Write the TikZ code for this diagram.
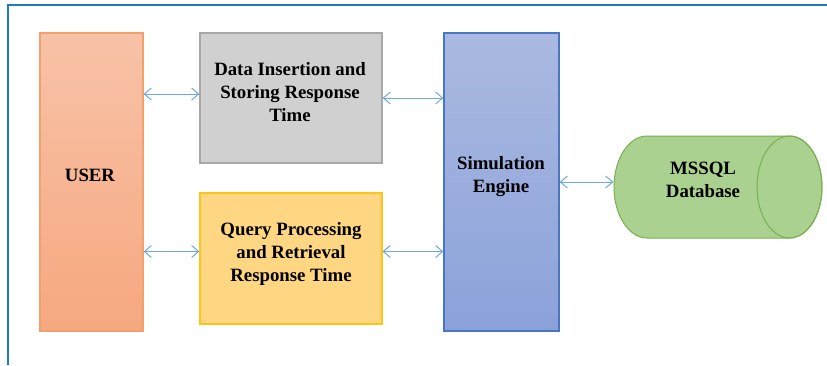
\documentclass[tikz,border=0pt]{standalone}
\usepackage{fontspec}
\setmainfont{Liberation Serif}
\usetikzlibrary{arrows.meta}

\definecolor{frameblue}{HTML}{1F7BC6}
\definecolor{linkblue}{HTML}{6FA8DC}
\definecolor{userline}{HTML}{F4A06A}
\definecolor{usertop}{HTML}{F8C2A7}
\definecolor{userbot}{HTML}{F6A880}
\definecolor{grayfill}{HTML}{D0D0D0}
\definecolor{grayline}{HTML}{A8A8A8}
\definecolor{yellowfill}{HTML}{FFD681}
\definecolor{yellowline}{HTML}{FFC514}
\definecolor{simtop}{HTML}{AAB9E1}
\definecolor{simbot}{HTML}{8BA2D9}
\definecolor{simline}{HTML}{4A75C5}
\definecolor{dbfill}{HTML}{AAD18F}
\definecolor{dbline}{HTML}{78B04F}

\begin{document}
\begin{tikzpicture}[x=1pt, y=-1pt,
    box/.style={rectangle, line width=1.2pt, inner sep=0pt},
    label/.style={align=center, font=\fontsize{18.8}{23}\selectfont\bfseries},
    link/.style={{Straight Barb[length=7pt,width=12pt]}-{Straight Barb[length=7pt,width=12pt]},
        draw=linkblue, line width=1pt}]

    \useasboundingbox (0,0) rectangle (827,365);

    % Frame
    \draw[frameblue, line width=2pt] (8,365) -- (8,5) -- (827,5);

    % Column 1 (user)
    \node[box, draw=userline, top color=usertop, bottom color=userbot,
        minimum width=103pt, minimum height=298pt] (user) at (91.5,182) {};
    \node[label] (usertxt) at (90,175) {USER};

    % Column 2 (response times)
    \node[box, draw=grayline, fill=grayfill,
        minimum width=182pt, minimum height=130pt] (data) at (291,98) {};
    \node[label] (datatxt) at (290,92) {Data Insertion and\\Storing Response\\Time};
    \node[box, draw=yellowline, fill=yellowfill,
        minimum width=182pt, minimum height=131pt] (query) at (291,258.5) {};
    \node[label] (querytxt) at (291,254) {Query Processing\\and Retrieval\\Response Time};

    % Column 3 (engine)
    \node[box, draw=simline, top color=simtop, bottom color=simbot,
        minimum width=115pt, minimum height=298pt] (sim) at (501.5,182) {};
    \node[label] (simtxt) at (501,177) {Simulation\\Engine};

    % Column 4 (database cylinder)
    \node[box, minimum width=208pt, minimum height=102pt] (db) at (718,187) {};
    \draw[dbline, fill=dbfill, line width=1pt]
        (789.5,136) -- (647,136) arc[start angle=-90, end angle=-270, x radius=33, y radius=51]
        -- (789.5,238) arc[start angle=90, end angle=-90, x radius=32.5, y radius=51] -- cycle;
    \draw[dbline, line width=1pt] (789.5,187) ellipse[x radius=32.5, y radius=51];
    \node[label] (dbtxt) at (703,180) {MSSQL\\Database};

    % Links
    \draw[link] ([yshift=4pt]user.east |- data.west) -- ([yshift=4pt]data.west);
    \draw[link] (data.east) -- (data.east -| sim.west);
    \draw[link] ([yshift=7pt]user.east |- query.west) -- ([yshift=7pt]query.west);
    \draw[link] ([yshift=7pt]query.east) -- ([yshift=7pt]query.east -| sim.west);
    \draw[link] (sim.east) -- (sim.east -| db.west);

\end{tikzpicture}
\end{document}
